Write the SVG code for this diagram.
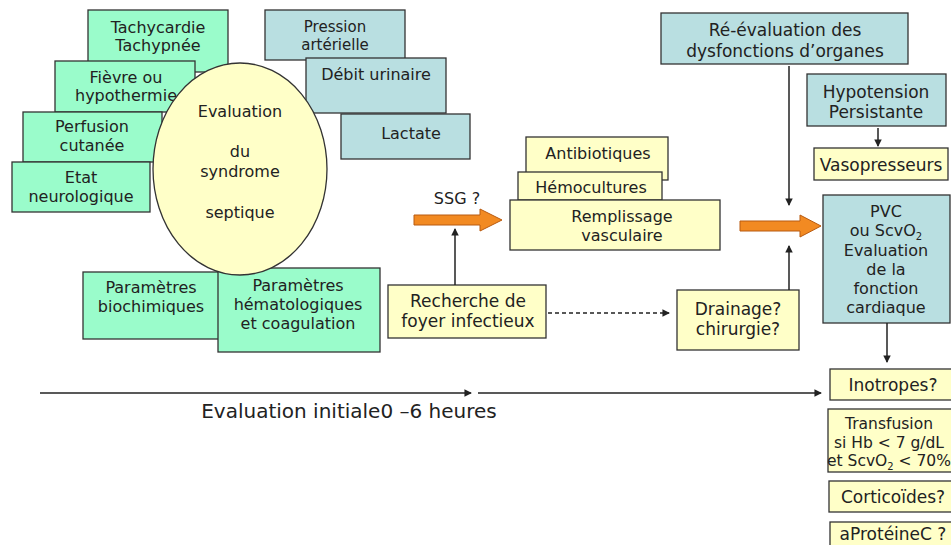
<svg xmlns="http://www.w3.org/2000/svg" width="951" height="545" viewBox="0 0 951 545">
<defs>
<style>
text{font-family:"DejaVu Sans",Verdana,sans-serif;font-size:16px;fill:#222;text-anchor:middle}
.r text{font-size:17px}
#pvc text{font-size:16px}
#pression text{font-size:15px}
#transfusion text{font-size:15.5px}
.g{fill:#9AFCCB;stroke:#333;stroke-width:1.3}
.b{fill:#B9DFE1;stroke:#333;stroke-width:1.3}
.y{fill:#FFFFC8;stroke:#333;stroke-width:1.3}
.ln{stroke:#222;stroke-width:1.5;fill:none}
.or{fill:#F28A22;stroke:#B85A10;stroke-width:1}
</style>
<marker id="ah" viewBox="0 0 8 8" refX="7" refY="4" markerWidth="5" markerHeight="5" orient="auto"><path d="M0,0 L8,4 L0,8 z" fill="#222"/></marker>
</defs>
<rect width="951" height="545" fill="#fff"/>

<g id="tachy"><rect class="g" x="88" y="10" width="140" height="62"/><text x="158" y="33">Tachycardie</text><text x="158" y="51">Tachypnée</text></g>
<g id="fievre"><rect class="g" x="55" y="61" width="140" height="51"/><text x="126" y="83">Fièvre ou</text><text x="126" y="101">hypothermie</text></g>
<g id="perfusion"><rect class="g" x="23" y="112" width="139" height="50"/><text x="92" y="132">Perfusion</text><text x="92" y="151">cutanée</text></g>
<g id="etat"><rect class="g" x="12" y="162" width="138" height="50"/><text x="81" y="183">Etat</text><text x="81" y="202">neurologique</text></g>
<g id="biochim"><rect class="g" x="83" y="272" width="140" height="67"/><text x="151" y="293">Paramètres</text><text x="151" y="312">biochimiques</text></g>
<g id="hemato"><rect class="g" x="218" y="268" width="162" height="84"/><text x="298" y="291">Paramètres</text><text x="298" y="310">hématologiques</text><text x="298" y="329">et coagulation</text></g>

<g id="pression"><rect class="b" x="265" y="10" width="140" height="50"/><text x="335" y="32">Pression</text><text x="335" y="50">artérielle</text></g>
<g id="debit"><rect class="b" x="306" y="58" width="140" height="55"/><text x="376" y="80">Débit urinaire</text></g>
<g id="lactate"><rect class="b" x="341" y="114" width="129" height="45"/><text x="411" y="139">Lactate</text></g>

<g id="evaluation"><ellipse cx="240" cy="169" rx="87" ry="106" fill="#FFFFC8" stroke="#333" stroke-width="1.3"/><text x="240" y="117">Evaluation</text><text x="240" y="157">du</text><text x="240" y="177">syndrome</text><text x="240" y="218">septique</text></g>

<g id="antibio"><rect class="y" x="526" y="137" width="142" height="43"/><text x="598" y="159">Antibiotiques</text></g>
<g id="hemoc"><rect class="y" x="518" y="172" width="144" height="28"/><text x="591" y="193">Hémocultures</text></g>
<g id="remplissage"><rect class="y" x="510" y="200" width="210" height="50"/><text x="622" y="222">Remplissage</text><text x="622" y="241">vasculaire</text></g>
<g id="recherche" class="r"><rect class="y" x="388" y="285" width="158" height="53"/><text x="468" y="307">Recherche de</text><text x="468" y="327">foyer infectieux</text></g>
<g id="drainage" class="r"><rect class="y" x="677" y="290" width="122" height="60"/><text x="738" y="315">Drainage?</text><text x="738" y="335">chirurgie?</text></g>

<g id="reeval" class="r"><rect class="b" x="661" y="13" width="247" height="51"/><text x="785" y="36">Ré-évaluation des</text><text x="785" y="57">dysfonctions d’organes</text></g>
<g id="hypotension" class="r"><rect class="b" x="807" y="74" width="139" height="52"/><text x="876" y="98">Hypotension</text><text x="876" y="118">Persistante</text></g>
<g id="vaso" class="r"><rect class="y" x="814" y="148" width="134" height="32"/><text x="881" y="171">Vasopresseurs</text></g>
<g id="pvc" class="r"><rect class="b" x="823" y="195" width="127" height="128"/><text x="886" y="217">PVC</text><text x="886" y="236">ou ScvO<tspan font-size="10" dy="4">2</tspan></text><text x="886" y="256">Evaluation</text><text x="886" y="275">de la</text><text x="886" y="294">fonction</text><text x="886" y="313">cardiaque</text></g>
<g id="inotropes" class="r"><rect class="y" x="830" y="369" width="130" height="31"/><text x="893" y="391">Inotropes?</text></g>
<g id="transfusion" class="r"><rect class="y" x="828" y="409" width="132" height="63"/><text x="889" y="429">Transfusion</text><text x="889" y="448">si Hb &lt; 7 g/dL</text><text x="889" y="466">et ScvO<tspan font-size="10" dy="4">2</tspan><tspan dy="-4"> &lt; 70%</tspan></text></g>
<g id="cortico" class="r"><rect class="y" x="829" y="481" width="131" height="31"/><text x="893" y="503">Corticoïdes?</text></g>
<g id="aproteine" class="r"><rect class="y" x="830" y="522" width="130" height="30"/><text x="893" y="540">aProtéineC ?</text></g>

<g id="connectors">
<path class="or" d="M414,215 L480,215 L480,209 L502,220 L480,231 L480,225 L414,225 z"/>
<path class="or" d="M740,221 L800,221 L800,215 L821,226 L800,237 L800,231 L740,231 z"/>
<line class="ln" x1="455" y1="285" x2="455" y2="229" marker-end="url(#ah)"/>
<line class="ln" x1="548" y1="313" x2="669" y2="313" stroke-dasharray="4,3" marker-end="url(#ah)"/>
<line class="ln" x1="789" y1="290" x2="789" y2="246" marker-end="url(#ah)"/>
<line class="ln" x1="789" y1="66" x2="789" y2="205" marker-end="url(#ah)"/>
<line class="ln" x1="878" y1="128" x2="878" y2="146" marker-end="url(#ah)"/>
<line class="ln" x1="887" y1="323" x2="887" y2="362" marker-end="url(#ah)"/>
<line class="ln" x1="40" y1="393" x2="471" y2="393" marker-end="url(#ah)"/>
<line class="ln" x1="478" y1="393" x2="821" y2="393" marker-end="url(#ah)"/>
</g>
<text x="349" y="418" style="font-size:20px">Evaluation initiale0 –6 heures</text>
<text x="457" y="204" style="font-size:16px">SSG ?</text>
</svg>
